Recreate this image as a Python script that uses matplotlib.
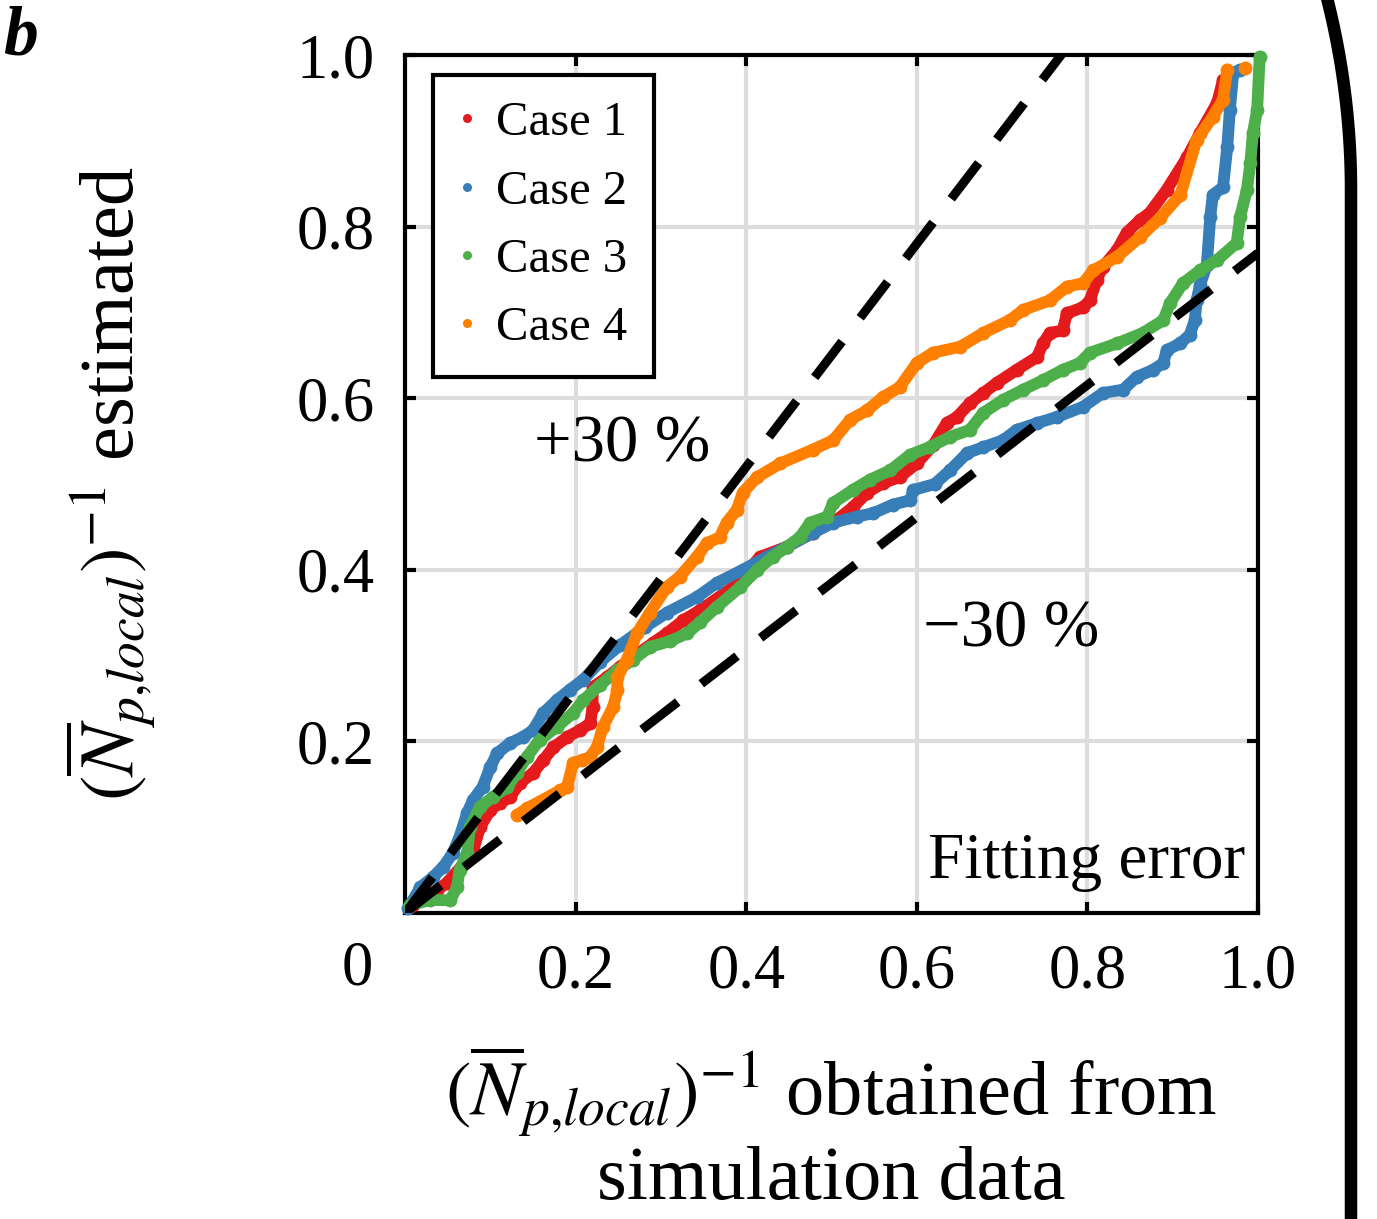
import numpy as np
import matplotlib
matplotlib.use('Agg')
import matplotlib.pyplot as plt
from matplotlib.lines import Line2D

plt.rcParams['font.family'] = ['Liberation Serif', 'DejaVu Serif']
plt.rcParams['mathtext.fontset'] = 'stix'

# values
case1_x = [0.009, 0.038, 0.049, 0.073, 0.080, 0.088, 0.100, 0.111, 0.123, 0.135, 0.150, 0.162,
           0.174, 0.190, 0.205, 0.217, 0.220, 0.220, 0.237, 0.252, 0.267, 0.291, 0.307, 0.326,
           0.346, 0.385, 0.416, 0.448, 0.478, 0.506, 0.525, 0.542, 0.560, 0.580, 0.600, 0.619,
           0.635, 0.647, 0.662, 0.678, 0.694, 0.717, 0.741, 0.748, 0.756, 0.771, 0.776, 0.795,
           0.803, 0.811, 0.818, 0.835, 0.846, 0.862, 0.873, 0.893, 0.917, 0.932, 0.952, 0.959]
case1_y = [0.009, 0.027, 0.035, 0.062, 0.073, 0.100, 0.120, 0.128, 0.135, 0.152, 0.163, 0.178,
           0.193, 0.205, 0.213, 0.221, 0.240, 0.263, 0.275, 0.287, 0.298, 0.315, 0.326, 0.341,
           0.353, 0.380, 0.415, 0.427, 0.443, 0.458, 0.473, 0.490, 0.501, 0.508, 0.524, 0.545,
           0.571, 0.578, 0.594, 0.606, 0.618, 0.633, 0.648, 0.664, 0.676, 0.679, 0.699, 0.706,
           0.714, 0.738, 0.753, 0.773, 0.793, 0.808, 0.816, 0.843, 0.881, 0.909, 0.944, 0.971]

case2_x = [0.004, 0.018, 0.033, 0.045, 0.056, 0.064, 0.073, 0.080, 0.091, 0.100, 0.108, 0.123,
           0.138, 0.150, 0.162, 0.178, 0.193, 0.209, 0.229, 0.252, 0.281, 0.307, 0.342, 0.366,
           0.396, 0.424, 0.448, 0.478, 0.502, 0.530, 0.549, 0.572, 0.592, 0.596, 0.621, 0.639,
           0.659, 0.678, 0.701, 0.717, 0.741, 0.764, 0.795, 0.818, 0.842, 0.858, 0.877, 0.889,
           0.893, 0.909, 0.920, 0.926, 0.928, 0.932, 0.940, 0.944, 0.947, 0.959, 0.964, 0.967,
           0.971, 0.979]
case2_y = [0.006, 0.030, 0.042, 0.054, 0.070, 0.089, 0.117, 0.132, 0.147, 0.170, 0.186, 0.198,
           0.205, 0.213, 0.233, 0.248, 0.260, 0.272, 0.293, 0.312, 0.333, 0.350, 0.368, 0.385,
           0.400, 0.415, 0.427, 0.443, 0.455, 0.462, 0.466, 0.476, 0.481, 0.493, 0.500, 0.516,
           0.536, 0.543, 0.551, 0.563, 0.571, 0.578, 0.590, 0.606, 0.610, 0.625, 0.633, 0.641,
           0.656, 0.664, 0.674, 0.691, 0.714, 0.732, 0.755, 0.811, 0.837, 0.846, 0.893, 0.936,
           0.979, 0.983]

case3_x = [0.006, 0.029, 0.053, 0.061, 0.064, 0.073, 0.076, 0.088, 0.103, 0.120, 0.131, 0.143,
           0.158, 0.178, 0.197, 0.209, 0.229, 0.249, 0.267, 0.287, 0.311, 0.331, 0.346, 0.366,
           0.393, 0.413, 0.431, 0.448, 0.463, 0.475, 0.495, 0.502, 0.525, 0.545, 0.569, 0.592,
           0.615, 0.639, 0.662, 0.678, 0.701, 0.725, 0.748, 0.771, 0.791, 0.803, 0.835, 0.865,
           0.889, 0.897, 0.912, 0.932, 0.952, 0.975, 0.979, 0.987, 0.991, 0.994, 0.999, 1.002]
case3_y = [0.009, 0.015, 0.015, 0.030, 0.050, 0.070, 0.100, 0.124, 0.135, 0.147, 0.163, 0.182,
           0.202, 0.217, 0.233, 0.248, 0.266, 0.283, 0.295, 0.310, 0.317, 0.326, 0.339, 0.357,
           0.380, 0.400, 0.415, 0.427, 0.438, 0.455, 0.462, 0.478, 0.493, 0.505, 0.516, 0.534,
           0.543, 0.555, 0.563, 0.583, 0.598, 0.610, 0.621, 0.633, 0.641, 0.653, 0.664, 0.676,
           0.691, 0.711, 0.734, 0.749, 0.761, 0.781, 0.811, 0.843, 0.874, 0.909, 0.936, 0.998]

case4_x = [0.131, 0.143, 0.182, 0.190, 0.197, 0.208, 0.217, 0.225, 0.232, 0.244, 0.249, 0.249,
           0.260, 0.272, 0.287, 0.307, 0.322, 0.342, 0.354, 0.369, 0.377, 0.389, 0.396, 0.413,
           0.440, 0.478, 0.502, 0.522, 0.542, 0.560, 0.580, 0.600, 0.619, 0.651, 0.678, 0.709,
           0.725, 0.756, 0.776, 0.795, 0.807, 0.835, 0.862, 0.885, 0.909, 0.928, 0.947, 0.959,
           0.964]
case4_y = [0.114, 0.122, 0.143, 0.147, 0.175, 0.178, 0.182, 0.193, 0.217, 0.240, 0.260, 0.275,
           0.295, 0.326, 0.350, 0.380, 0.392, 0.415, 0.431, 0.438, 0.455, 0.470, 0.490, 0.508,
           0.524, 0.540, 0.551, 0.575, 0.586, 0.601, 0.613, 0.641, 0.653, 0.660, 0.676, 0.691,
           0.703, 0.714, 0.730, 0.734, 0.749, 0.765, 0.788, 0.810, 0.837, 0.901, 0.928, 0.948,
           0.983]
case4_extra = [0.985, 0.985]   # isolated point at the top

cases = [(case1_x, case1_y, 'Case 1', '#e41a1c'),
         (case2_x, case2_y, 'Case 2', '#377eb8'),
         (case3_x, case3_y, 'Case 3', '#4daf4a'),
         (case4_x, case4_y, 'Case 4', '#ff7f00')]

error_band = 0.30
ticks = [0.2, 0.4, 0.6, 0.8, 1.0]
tick_labels = ['0.2', '0.4', '0.6', '0.8', '1.0']

W, H = 1377, 1219
fig = plt.figure(figsize=(W / 100, H / 100), dpi=100)
ax = fig.add_axes([405 / W, 1 - 913 / H, 853 / W, 858 / H])

for xs, ys, name, col in cases:
    ax.plot(xs, ys, '-o', color=col, lw=8.5, ms=10, mew=0,
            solid_capstyle='round', solid_joinstyle='round', clip_on=False, zorder=3)
ax.plot([case4_extra[0]], [case4_extra[1]], 'o', color='#ff7f00', ms=10, mew=0,
        clip_on=False, zorder=3)

# +/- 30 % lines
xl = np.array([0.0, 1.0])
ax.plot(xl, xl * (1 + error_band), color='black', lw=6.5, dashes=(5, 3.3), zorder=4)
ax.plot(xl, xl / (1 + error_band), color='black', lw=6.5, dashes=(5, 3.3), zorder=4)

ax.set_xlim(0, 1)
ax.set_ylim(0, 1)
ax.set_xticks(ticks)
ax.set_yticks(ticks)
ax.set_xticklabels(tick_labels)
ax.set_yticklabels(tick_labels)
ax.tick_params(direction='in', length=8, width=3, top=True, right=True,
               labelsize=45, pad=22)
ax.grid(True, color='#dddddd', lw=3, zorder=0)
ax.set_axisbelow(True)
for s in ax.spines.values():
    s.set_linewidth(3)

ax.text(-0.056, -0.066, '0', fontsize=45, ha='center', va='center', transform=ax.transData)

ax.text(0.255, 0.545, '+30 %', fontsize=48, ha='center', va='center')
ax.text(0.71, 0.33, '\u221230 %', fontsize=48, ha='center', va='center')
ax.text(0.985, 0.025, 'Fitting error', fontsize=47, ha='right', va='bottom')

ax.set_xlabel(r'$(\overline{N}_{p{,}local})^{-1}$ obtained from' + '\nsimulation data',
              fontsize=55, labelpad=30, linespacing=1.15)
ax.set_ylabel(r'$(\overline{N}_{p{,}local})^{-1}$ estimated', fontsize=55, labelpad=100)

handles = [Line2D([], [], marker='o', ls='none', color=c, ms=6.5, mew=0)
           for _, _, _, c in cases]
leg = ax.legend(handles, [n for _, _, n, _ in cases], loc='upper left',
                bbox_to_anchor=(0.033, 0.977), borderaxespad=0, fontsize=35,
                fancybox=False, framealpha=1, edgecolor='black',
                handlelength=0.3, handletextpad=0.45, labelspacing=0.5,
                borderpad=0.55)
leg.get_frame().set_linewidth(3)

fig.text(0.002, 0.955, 'b', fontsize=50, fontweight='bold', fontstyle='italic',
         ha='left', va='baseline')

# big bracket on the right
R, y0, xc = 780.0, 190.0, 1351.0
yy = np.linspace(0, y0, 60)
xx = xc - (R - np.sqrt(R ** 2 - (y0 - yy) ** 2))
yy = np.append(yy, H + 5)
xx = np.append(xx, xc)
fig.add_artist(Line2D(xx / W, 1 - yy / H, color='black', lw=9, transform=fig.transFigure))

fig.savefig('out.png', dpi=100)
